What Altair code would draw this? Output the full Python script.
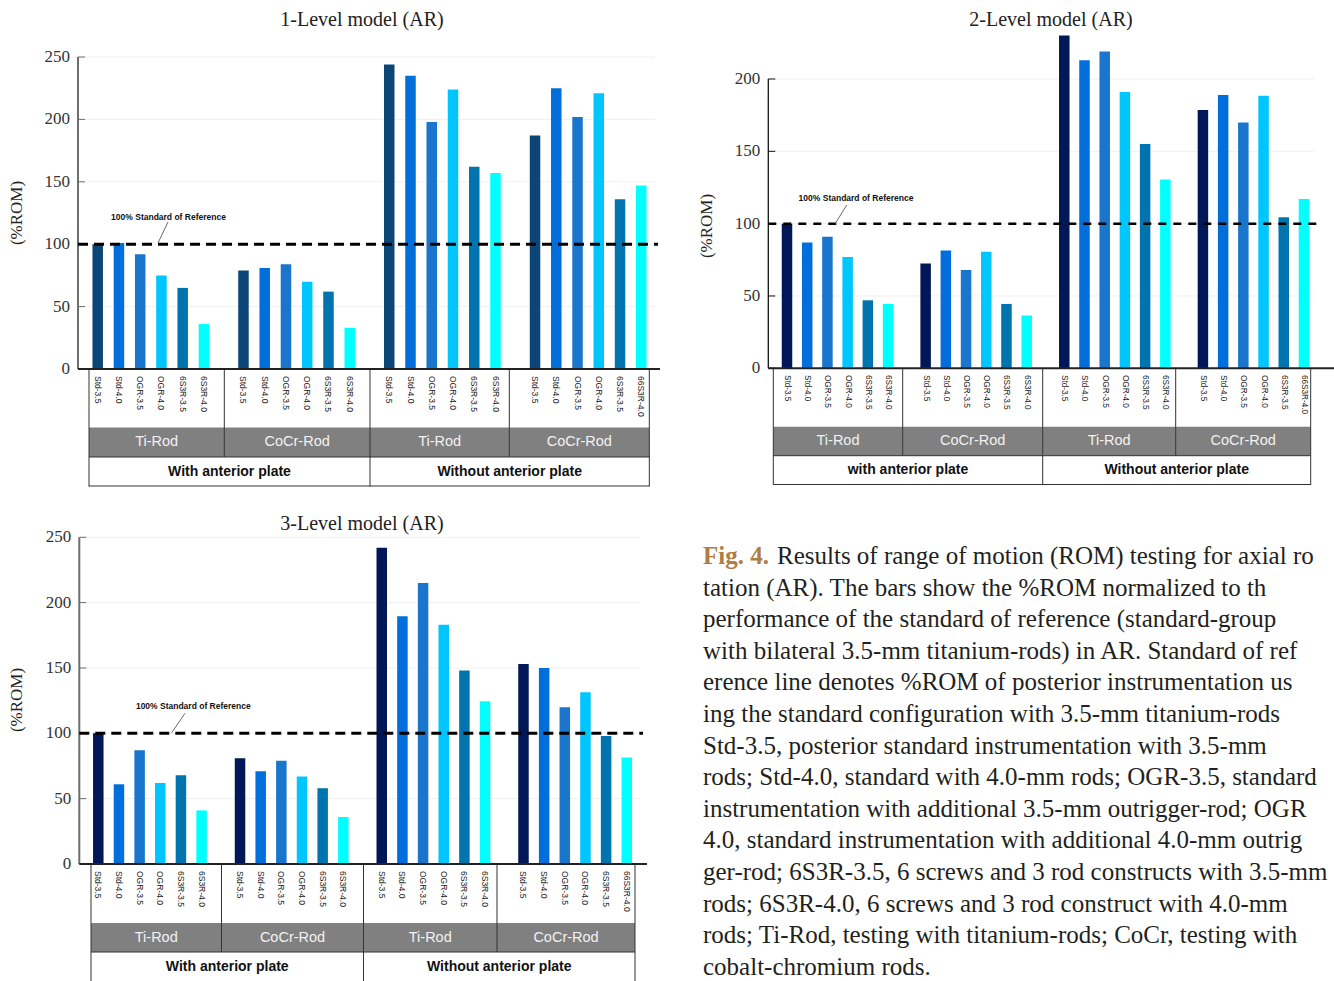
import altair as alt
import pandas as pd

# ---------------- data ----------------
configs = ["Std-3.5", "Std-4.0", "OGR-3.5", "OGR-4.0", "6S3R-3.5", "6S3R-4.0"]
configs_last = ["Std-3.5", "Std-4.0", "OGR-3.5", "OGR-4.0", "6S3R-3.5", "66S3R-4.0"]
rods = ["Ti-Rod", "CoCr-Rod", "Ti-Rod", "CoCr-Rod"]
plates_1 = ["With anterior plate", "Without anterior plate"]
plates_2 = ["with anterior plate", "Without anterior plate"]

l1_with_ti = [100, 101, 92, 75, 65, 36]
l1_with_cocr = [79, 81, 84, 70, 62, 33]
l1_without_ti = [244, 235, 198, 224, 162, 157]
l1_without_cocr = [187, 225, 202, 221, 136, 147]

l2_with_ti = [100, 87, 91, 77, 47, 44.5]
l2_with_cocr = [72.5, 81.5, 68, 80.5, 44.5, 36.5]
l2_without_ti = [230, 213, 219, 191, 155, 130.5]
l2_without_cocr = [178.5, 189, 170, 188.5, 104.5, 117]

l3_with_ti = [100, 61, 87, 62, 68, 41]
l3_with_cocr = [81, 71, 79, 67, 58, 36]
l3_without_ti = [242, 189.5, 215, 183, 148, 124.5]
l3_without_cocr = [153, 150, 120, 131.5, 98, 81.5]

y_ticks_250 = [0, 50, 100, 150, 200, 250]
y_ticks_200 = [0, 50, 100, 150, 200]
reference_level = [100]
reference_label = "100% Standard of Reference"

fig_label = "Fig. 4."
caption_lines = [
    "Results of range of motion (ROM) testing for axial ro",
    "tation (AR). The bars show the %ROM normalized to th",
    "performance of the standard of reference (standard-group",
    "with bilateral 3.5-mm titanium-rods) in AR. Standard of ref",
    "erence line denotes %ROM of posterior instrumentation us",
    "ing the standard configuration with 3.5-mm titanium-rods",
    "Std-3.5, posterior standard instrumentation with 3.5-mm",
    "rods; Std-4.0, standard with 4.0-mm rods; OGR-3.5, standard",
    "instrumentation with additional 3.5-mm outrigger-rod; OGR",
    "4.0, standard instrumentation with additional 4.0-mm outrig",
    "ger-rod; 6S3R-3.5, 6 screws and 3 rod constructs with 3.5-mm",
    "rods; 6S3R-4.0, 6 screws and 3 rod construct with 4.0-mm",
    "rods; Ti-Rod, testing with titanium-rods; CoCr, testing with",
    "cobalt-chromium rods.",
]

palette_1 = ["#0b4677", "#006fdc", "#1a75cc", "#00c6ff", "#0074ae", "#00ffff"]
palette_23 = ["#001857", "#006fdc", "#1a75cc", "#00c6ff", "#0074ae", "#00ffff"]

# ---------------- layout ----------------
SERIF = "'Liberation Serif', 'Times New Roman', serif"
SANS = "'Liberation Sans', Arial, sans-serif"
GAP = 6.86  # slot distance between the first bars of consecutive groups

P1 = dict(axis_x=78, y0=369, ytop=57, x_first=97.7, slot=21.25, x_end=658, base_end=660,
          dom_color="#6e6e6e", dom_w=2, dash=[10, 6], dash_w=3,
          dividers=[89, 224.3, 370, 509.3, 649.3], label_top=376, grey=(427.5, 457),
          table_bot=486.5, bottom_text_y=472, title_xy=(362, 20), ytitle_xy=(17, 213),
          ann_xy=(168.5, 217), conn=(158, 243, 168, 222), label_size=8.5)
P2 = dict(axis_x=768.3, y0=368.3, ytop=79, x_first=787, slot=20.21, x_end=1317, base_end=1334,
          dom_color="#111111", dom_w=1.3, dash=[8, 7], dash_w=2.5,
          dividers=[773.3, 902.7, 1042.7, 1175.7, 1310.7], label_top=375, grey=(426.7, 455.7),
          table_bot=485, bottom_text_y=470, title_xy=(1051, 20), ytitle_xy=(707, 226),
          ann_xy=(856, 197.7), conn=(835, 224, 846.7, 205), label_size=8.2)
P3 = dict(axis_x=79.3, y0=864, ytop=537.3, x_first=98.3, slot=20.66, x_end=643, base_end=647,
          dom_color="#6e6e6e", dom_w=2, dash=[10, 6], dash_w=3,
          dividers=[91, 221.5, 363.5, 497, 635], label_top=871, grey=(923, 952),
          table_bot=982, bottom_text_y=967, title_xy=(362, 524), ytitle_xy=(17, 700),
          ann_xy=(193.3, 705.7), conn=(171.7, 732.7, 185, 713.3), label_size=8.5)


def panel_df(groups):
    rows = []
    for g, vals in enumerate(groups):
        labs = configs_last if g == 3 else configs
        for i, v in enumerate(vals):
            rows.append(dict(g=g, idx=i, label=labs[i], value=v, pos=g * GAP + i))
    return pd.DataFrame(rows)


def make_panel(S, title, groups, yticks, plates, palette):
    xf, slot, ax = S["x_first"], S["slot"], S["axis_x"]

    def u(px):
        return (px - xf) / slot

    xs = alt.Scale(domain=[u(ax), u(S["x_end"])], range=[ax, S["x_end"]],
                   nice=False, zero=False, padding=0)
    ys = alt.Scale(domain=[0, yticks[-1]], range=[S["y0"], S["ytop"]], nice=False, zero=False)
    df = panel_df(groups)
    tdf = pd.DataFrame({"t": yticks, "lab": [str(v) for v in yticks]})

    grid = alt.Chart(tdf[tdf.t > 0]).mark_rule(color="#f0f0f0", strokeWidth=1).encode(
        y=alt.Y("t:Q", scale=ys, axis=None), x=alt.value(ax), x2=alt.value(S["x_end"] - 3))

    bars = alt.Chart(df).mark_bar(width=10.5).encode(
        x=alt.X("pos:Q", scale=xs, axis=None),
        y=alt.Y("value:Q", scale=ys, axis=None),
        color=alt.Color("idx:O", scale=alt.Scale(domain=list(range(6)), range=palette), legend=None),
    )

    # y axis drawn from the y scale
    ydomain = alt.Chart(pd.DataFrame({"a": [0]})).mark_rule(
        color=S["dom_color"], strokeWidth=S["dom_w"]).encode(
        x=alt.value(ax), y=alt.value(S["ytop"]), y2=alt.value(S["y0"]))
    ticks = alt.Chart(tdf).mark_rule(color=S["dom_color"], strokeWidth=1).encode(
        y=alt.Y("t:Q", scale=ys, axis=None), x=alt.value(ax), x2=alt.value(ax + 7))
    tlabels = alt.Chart(tdf).mark_text(
        font=SERIF, fontSize=17, color="#333333", align="right", baseline="middle").encode(
        y=alt.Y("t:Q", scale=ys, axis=None), x=alt.value(ax - 8), text="lab:N")

    baseline = alt.Chart(pd.DataFrame({"z": [0]})).mark_rule(
        color="#222222", strokeWidth=2).encode(
        y=alt.Y("z:Q", scale=ys, axis=None), x=alt.value(ax), x2=alt.value(S["base_end"]))

    ref = alt.Chart(pd.DataFrame({"v": reference_level})).mark_rule(
        color="black", strokeWidth=S["dash_w"], strokeDash=S["dash"]).encode(
        y=alt.Y("v:Q", scale=ys, axis=None), x=alt.value(ax), x2=alt.value(S["x_end"]))

    # --- table under the bars ---
    labels = alt.Chart(df).mark_text(
        angle=90, align="left", baseline="middle", font=SANS,
        fontSize=S["label_size"], color="#1a1a1a").encode(
        x=alt.X("pos:Q", scale=xs, axis=None), y=alt.value(S["label_top"]), text="label:N")

    dv = [u(p) for p in S["dividers"]]
    g0, g1 = S["grey"]
    cells = pd.DataFrame({"x0": dv[:4], "x1": dv[1:], "xc": [(a + b) / 2 for a, b in zip(dv[:4], dv[1:])],
                          "name": rods})
    grey = alt.Chart(cells).mark_rect(color="#808080").encode(
        x=alt.X("x0:Q", scale=xs, axis=None), x2="x1:Q", y=alt.value(g0), y2=alt.value(g1))
    grey_txt = alt.Chart(cells).mark_text(
        font=SANS, fontSize=14.5, color="#f2f2f2", baseline="middle").encode(
        x=alt.X("xc:Q", scale=xs, axis=None), y=alt.value((g0 + g1) / 2), text="name:N")

    pl = pd.DataFrame({"xc": [(dv[0] + dv[2]) / 2, (dv[2] + dv[4]) / 2], "name": plates})
    pl_txt = alt.Chart(pl).mark_text(
        font=SANS, fontSize=14, fontWeight="bold", color="#111111", baseline="middle").encode(
        x=alt.X("xc:Q", scale=xs, axis=None), y=alt.value(S["bottom_text_y"]), text="name:N")

    vfull = alt.Chart(pd.DataFrame({"x": [dv[0], dv[2], dv[4]]})).mark_rule(
        color="#333333", strokeWidth=1).encode(
        x=alt.X("x:Q", scale=xs, axis=None), y=alt.value(S["y0"]), y2=alt.value(S["table_bot"]))
    vpart = alt.Chart(pd.DataFrame({"x": [dv[1], dv[3]]})).mark_rule(
        color="#333333", strokeWidth=1).encode(
        x=alt.X("x:Q", scale=xs, axis=None), y=alt.value(S["y0"]), y2=alt.value(g1))
    hdf = pd.DataFrame({"x0": [dv[0]], "x1": [dv[4]]})
    h1 = alt.Chart(hdf).mark_rule(color="#333333", strokeWidth=1).encode(
        x=alt.X("x0:Q", scale=xs, axis=None), x2="x1:Q", y=alt.value(g1))
    h2 = alt.Chart(hdf).mark_rule(color="#333333", strokeWidth=1).encode(
        x=alt.X("x0:Q", scale=xs, axis=None), x2="x1:Q", y=alt.value(S["table_bot"] - 0.5))

    # --- texts ---
    ttl = alt.Chart(pd.DataFrame({"t": [title]})).mark_text(
        font=SERIF, fontSize=20, color="#222222", baseline="middle").encode(
        x=alt.value(S["title_xy"][0]), y=alt.value(S["title_xy"][1]), text="t:N")
    ytl = alt.Chart(pd.DataFrame({"t": ["(%ROM)"]})).mark_text(
        font=SERIF, fontSize=17, color="#222222", angle=270, baseline="middle").encode(
        x=alt.value(S["ytitle_xy"][0]), y=alt.value(S["ytitle_xy"][1]), text="t:N")
    ann = alt.Chart(pd.DataFrame({"t": [reference_label]})).mark_text(
        font=SANS, fontSize=8.5, fontWeight="bold", color="#111111", baseline="middle").encode(
        x=alt.value(S["ann_xy"][0]), y=alt.value(S["ann_xy"][1]), text="t:N")
    c = S["conn"]
    conn = alt.Chart(pd.DataFrame({"t": [0]})).mark_rule(color="#444444", strokeWidth=0.8).encode(
        x=alt.value(c[0]), y=alt.value(c[1]), x2=alt.value(c[2]), y2=alt.value(c[3]))

    return alt.layer(grid, grey, grey_txt, pl_txt, vfull, vpart, h1, h2, bars, ydomain, ticks,
                     tlabels, baseline, ref, labels, ttl, ytl, ann, conn)


p1 = make_panel(P1, "1-Level model (AR)",
                [l1_with_ti, l1_with_cocr, l1_without_ti, l1_without_cocr],
                y_ticks_250, plates_1, palette_1)
p2 = make_panel(P2, "2-Level model (AR)",
                [l2_with_ti, l2_with_cocr, l2_without_ti, l2_without_cocr],
                y_ticks_200, plates_2, palette_23)
p3 = make_panel(P3, "3-Level model (AR)",
                [l3_with_ti, l3_with_cocr, l3_without_ti, l3_without_cocr],
                y_ticks_250, plates_1, palette_23)

# ---------------- caption ----------------
CAP_X, CAP_Y0, CAP_DY, CAP_FS = 703, 564, 31.6, 25
fig = alt.Chart(pd.DataFrame({"t": [fig_label]})).mark_text(
    font=SERIF, fontSize=CAP_FS, fontWeight="bold", color="#b07d45", align="left",
    baseline="alphabetic").encode(
    x=alt.value(CAP_X), y=alt.value(CAP_Y0), text="t:N")
first = alt.Chart(pd.DataFrame({"t": [caption_lines[0]]})).mark_text(
    font=SERIF, fontSize=CAP_FS, color="#231f20", align="left", baseline="alphabetic").encode(
    x=alt.value(777), y=alt.value(CAP_Y0), text="t:N")
n = len(caption_lines) - 1
rest = alt.Chart(pd.DataFrame({"row": list(range(1, n + 1)), "line": caption_lines[1:]})).mark_text(
    font=SERIF, fontSize=CAP_FS, color="#231f20", align="left", baseline="alphabetic").encode(
    x=alt.value(CAP_X),
    y=alt.Y("row:Q", scale=alt.Scale(domain=[0, n], range=[CAP_Y0, CAP_Y0 + n * CAP_DY]), axis=None),
    text="line:N")
cap = alt.layer(fig, first, rest)

chart = alt.layer(p1, p2, p3, cap).resolve_scale(
    x="independent", y="independent", color="independent"
).properties(
    width=1334, height=981, padding=0, autosize=alt.AutoSizeParams(type="none")
).configure_view(stroke=None)

chart.save("out.html", embed_options={"renderer": "svg", "actions": False})
